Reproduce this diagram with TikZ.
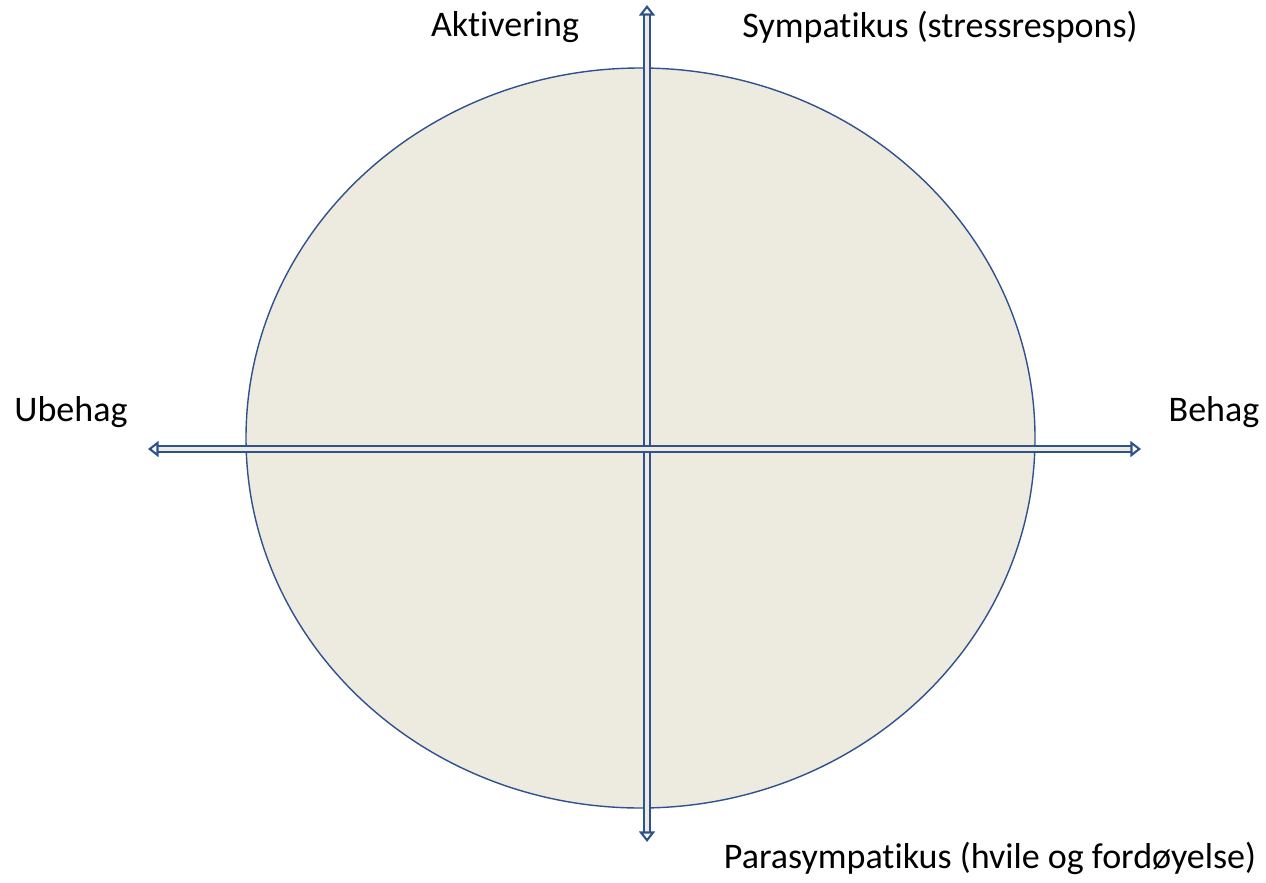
\documentclass[tikz,border=0pt]{standalone}
\usepackage{fontspec}
\setmainfont[Ligatures=NoCommon]{Carlito}
\usepackage{xcolor}
\usetikzlibrary{positioning}
\usetikzlibrary{arrows.meta}

\definecolor{axisblue}{HTML}{2F528F}
\definecolor{circlefill}{HTML}{EDEAE0}

\tikzset{
  axis/.style={axisblue, line width=1.2pt, double=circlefill, double distance=1.8pt,
    {Stealth[open, length=6pt, width=9pt, inset=0pt]}-{Stealth[open, length=6pt, width=9pt, inset=0pt]}},
  label/.style={font=\fontsize{20.5}{24}\selectfont, inner sep=0pt}
}

\begin{document}
\begin{tikzpicture}[x=0.02cm, y=-0.02cm]
\useasboundingbox (0,0) rectangle (1266,882);

\fill[circlefill, draw=axisblue, line width=0.8pt] (640.5,438) ellipse [x radius=394.5, y radius=370];

% axis ends
\coordinate (top) at (647,5);
\coordinate (bottom) at (647,842);
\coordinate (left) at (148,449);
\coordinate (right) at (1141,449);

\draw[axis] (top) -- (bottom);
\draw[axis] (left) -- (right);

\node[label] (aktiv) at (505,27) {Aktivering};
\node[label] (symp) at (940,27) {Sympatikus (stressrespons)};
\node[label] (ubehag) at (71,412) {Ubehag};
\node[label] (behag) at (1214,412) {Behag};
\node[label] (parasymp) at (990,858) {Parasympatikus (hvile og fordøyelse)};

\end{tikzpicture}
\end{document}
